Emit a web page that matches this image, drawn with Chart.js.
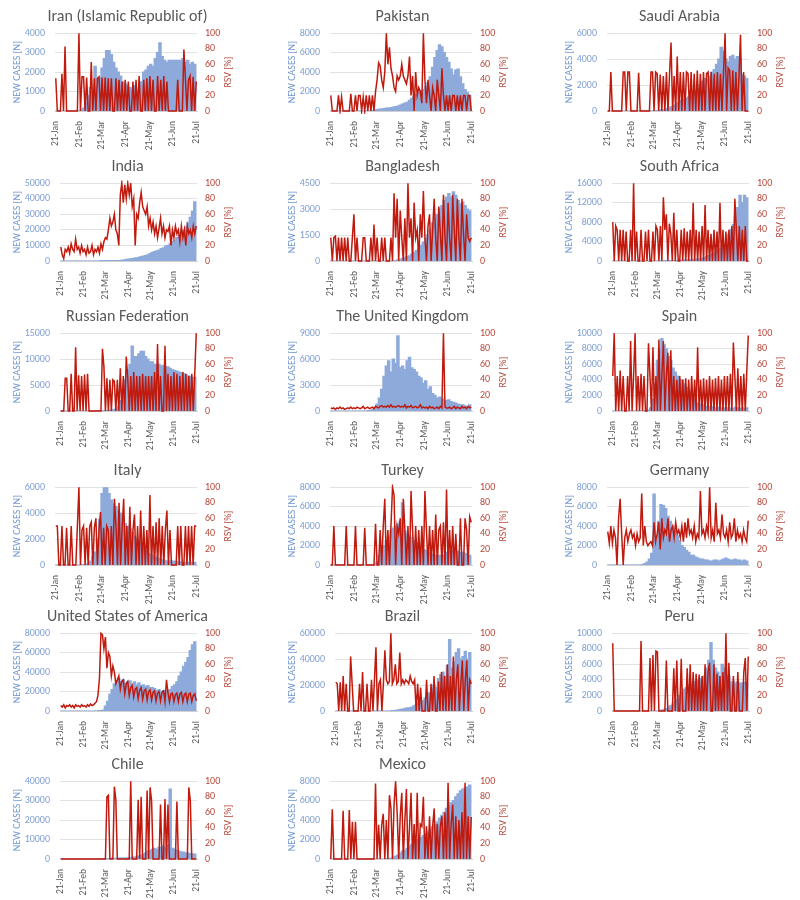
<!DOCTYPE html>
<html>
<head>
<meta charset="utf-8">
<script src="https://cdn.jsdelivr.net/npm/chart.js@4.4.1/dist/chart.umd.min.js"></script>
<style>
  body { margin: 0; background: #fff; }
  #wrap { position: relative; width: 800px; height: 900px; }
  #wrap canvas { position: absolute; }
</style>
</head>
<body>
<div id="wrap"></div>
<script>
// x positions are days after 21-Jan
const tickDays = [0, 31, 60, 91, 121, 152, 182];
const tickLabels = ["21-Jan", "21-Feb", "21-Mar", "21-Apr", "21-May", "21-Jun", "21-Jul"];
const caseStepDays = 3;
const rsvStepDays = 2;

const countries = [
  "Iran (Islamic Republic of)", "Pakistan", "Saudi Arabia",
  "India", "Bangladesh", "South Africa",
  "Russian Federation", "The United Kingdom", "Spain",
  "Italy", "Turkey", "Germany",
  "United States of America", "Brazil", "Peru",
  "Chile", "Mexico",
];
const caseAxisMax = [4000, 8000, 6000, 50000, 4500, 16000, 15000, 9000, 10000, 6000, 8000, 8000, 80000, 60000, 10000, 40000, 8000];
const caseAxisStep = [1000, 2000, 2000, 10000, 1500, 4000, 5000, 3000, 2000, 2000, 2000, 2000, 20000, 20000, 2000, 10000, 2000];

const iranCases = [0,0,0,0,0,0,0,0,0,0,0,
  50,150,400,800,1200,1000,2300,1400,1700,2200,
  2700,3100,3100,2900,2500,2200,2000,1800,1500,1400,
  1300,1200,1100,1300,1000,1100,1500,2000,2100,2300,
  2400,2300,2700,3000,3500,2800,2600,2500,2600,2600,
  2600,2600,2600,2600,2700,2500,2600,2400,2500,2400];
const iranRsv = [42,0,0,0,48,0,83,0,0,0,0,0,0,0,0,100,
  0,44,44,0,43,0,0,63,0,42,0,42,44,0,43,
  0,43,0,42,0,42,0,0,42,0,40,0,38,0,40,
  0,38,0,0,38,0,40,0,45,0,0,40,0,42,0,
  45,0,40,0,0,45,0,40,0,45,0,38,0,0,0,
  0,0,0,40,0,0,0,79,42,0,40,45,0,44,0,38];

const pakistanCases = [0,0,0,0,0,0,0,0,0,0,0,
  0,0,0,0,0,0,0,50,100,150,
  200,200,250,300,300,350,400,450,500,600,
  700,800,900,1100,1300,1500,1700,1900,2100,2200,
  2500,2900,3500,4500,5500,6200,6800,6600,6000,5500,
  5000,4300,3700,4200,4300,3500,2800,2200,1900,1600];
const pakistanRsv = [20,0,0,0,0,20,0,18,0,0,0,0,0,22,0,0,
  20,0,20,20,0,18,0,20,0,20,0,20,0,25,40,
  62,58,40,30,50,100,60,82,55,45,30,25,45,40,45,
  60,45,40,35,45,70,20,45,0,50,20,30,25,10,100,
  40,10,40,20,0,30,20,0,40,20,0,55,20,0,20,
  0,20,0,20,20,0,20,0,20,0,20,20,0,20,20,0];

const saudiCases = [0,0,0,0,0,0,0,0,0,0,0,
  0,0,0,0,0,0,0,0,0,10,
  20,50,80,100,150,200,300,350,450,600,
  700,800,900,1000,1100,1200,1300,1500,1700,2000,
  2300,2500,2400,2700,3000,3200,3600,4000,4900,4600,
  4000,3800,4200,4300,4000,4200,4100,2800,2700,2500];
const saudiRsv = [0,0,50,0,0,0,0,0,0,0,50,50,0,50,50,0,
  0,0,0,0,49,0,0,0,0,0,0,0,50,50,0,
  50,48,0,47,0,45,0,50,0,47,88,0,45,0,70,
  0,50,0,50,0,50,48,0,50,0,48,0,52,0,48,
  0,50,0,48,50,0,50,0,48,0,50,0,48,0,50,
  100,0,55,52,0,52,0,50,0,45,98,0,50,0,0,0];

const indiaCases = [0,0,0,0,0,0,0,0,0,0,0,
  0,0,0,0,0,0,0,10,20,30,
  50,80,100,150,200,300,400,600,900,1200,
  1300,1500,1800,2000,2400,2800,3200,3500,4000,4800,
  5500,6000,6500,7000,8000,8500,9500,10000,11000,12500,
  13500,15000,16500,18000,19500,22000,24500,28000,32000,38000];
const indiaRsv = [18,8,3,15,12,18,10,22,15,12,28,15,18,10,20,12,
  15,8,18,10,12,20,8,15,12,18,10,22,15,25,30,
  28,40,55,45,50,60,40,35,20,85,100,75,98,80,100,
  85,100,70,80,20,60,55,75,88,70,65,60,70,45,55,
  40,50,35,45,30,42,55,35,45,30,40,38,45,20,40,
  30,45,35,40,25,45,30,40,20,45,35,40,30,45,35,45];

const bangladeshCases = [0,0,0,0,0,0,0,0,0,0,0,
  0,0,0,0,0,0,0,0,0,0,
  0,0,0,0,0,0,10,30,60,100,
  150,200,250,300,400,500,600,700,900,1100,
  1300,1500,1800,2200,2500,2700,3000,3200,3500,3700,
  3900,3700,4000,3800,3500,3300,3400,3200,3000,2900];
const bangladeshRsv = [30,0,30,32,0,30,0,30,0,30,0,30,0,0,30,60,
  0,30,0,0,0,30,30,0,0,0,30,0,47,0,30,
  0,0,30,0,30,0,0,0,30,0,87,30,80,0,65,
  30,0,55,0,100,30,55,0,75,30,40,0,60,30,90,
  30,0,45,60,0,40,80,30,0,70,35,0,85,30,0,
  75,30,0,85,40,0,80,30,0,80,35,0,60,30,25,30];

const southAfricaCases = [0,0,0,0,0,0,0,0,0,0,0,
  0,0,0,0,0,0,0,0,0,0,
  0,10,20,40,50,60,70,80,100,150,
  150,200,250,300,300,350,400,450,500,600,
  700,900,1100,1300,1500,1800,2100,2500,3000,3500,
  4500,5500,6500,7500,9000,11000,13500,12000,13500,13000];
const southAfricaRsv = [50,0,45,40,0,40,0,40,0,38,0,0,40,0,100,0,
  38,0,0,40,0,0,38,0,40,0,0,38,0,45,40,
  0,45,0,82,40,60,0,48,35,0,62,0,40,0,0,
  40,0,42,0,38,0,40,0,75,0,40,0,38,0,45,
  0,72,0,40,0,35,0,40,0,38,0,75,0,40,0,
  38,0,40,0,45,0,80,40,0,45,0,40,0,45,0,0];

const russiaCases = [0,0,0,0,0,0,0,0,0,0,0,
  0,0,0,0,0,0,0,20,50,100,
  100,150,200,300,500,800,2000,4000,6000,8000,
  9000,12500,10500,10500,11000,11500,11500,10500,10000,9500,
  9500,9000,9000,9000,8700,8800,8500,8500,8200,8000,
  7800,7700,7500,7400,7200,7000,6800,6700,6500,6500];
const russiaRsv = [0,0,0,42,42,0,0,48,0,0,82,0,46,0,45,0,
  47,0,48,0,0,0,0,0,0,0,0,0,80,57,0,
  42,0,40,0,40,38,0,40,0,55,0,45,0,70,42,
  0,45,0,50,0,45,0,45,0,48,0,45,0,45,0,
  45,0,50,0,86,0,45,0,0,84,0,48,0,45,0,
  50,0,48,0,45,0,50,0,48,0,45,0,48,0,48,100];

const ukCases = [0,0,0,0,0,0,0,0,0,0,0,
  0,0,0,0,0,20,50,150,400,800,
  1500,2500,4000,5200,5800,4500,6000,5500,8700,5000,
  5200,4800,5800,6200,5000,4800,4500,4000,3800,3200,
  3500,2500,2800,2000,1800,1500,1600,1400,1300,1200,
  1300,1100,1000,900,800,700,700,600,500,700];
const ukRsv = [4,3,4,2,4,3,5,3,4,2,3,4,3,5,3,4,
  3,5,4,3,4,6,3,4,5,3,4,5,3,6,5,
  4,6,7,5,6,5,7,5,8,5,6,5,6,7,5,
  6,5,8,4,6,5,7,4,5,6,4,5,8,4,5,
  4,5,3,6,4,5,3,4,5,3,6,4,100,5,4,
  4,5,3,4,6,3,5,4,3,6,4,5,3,6,4,5];

const spainCases = [0,0,0,0,0,0,0,0,0,0,0,
  0,0,0,10,30,100,400,1500,3500,6500,
  8000,9300,8500,8000,7000,6500,5500,5000,4500,4000,
  4000,3500,3000,2500,2000,1500,1200,1000,900,800,
  700,600,500,600,500,400,400,500,300,400,
  400,300,400,300,500,400,300,400,300,400];
const spainRsv = [45,100,0,45,0,52,0,45,0,0,45,0,90,0,45,100,
  0,45,0,48,0,45,0,0,87,45,0,82,0,45,0,
  92,0,45,90,0,45,75,0,78,0,45,0,40,0,45,
  0,40,0,42,0,40,0,45,0,40,0,82,0,40,0,
  42,0,40,0,45,0,40,0,42,0,45,0,40,0,45,
  0,45,0,48,0,88,45,0,55,0,45,0,48,0,50,97];

const italyCases = [0,0,0,0,0,0,0,0,0,0,0,
  10,20,50,100,300,600,1000,2000,3500,5500,
  6500,6500,5500,5000,4700,4500,4200,4000,3500,3200,
  3000,2800,2500,2200,2000,1800,1500,1300,1100,900,
  800,700,600,550,500,400,350,300,300,300,
  300,250,250,250,200,200,200,200,200,200];
const italyRsv = [50,50,0,0,50,0,0,48,0,0,50,0,0,0,50,100,
  0,45,50,0,48,0,50,55,0,48,60,0,45,68,0,
  48,0,50,45,0,50,0,85,50,0,80,0,48,85,0,
  50,0,75,0,45,65,0,50,0,70,0,50,0,45,0,
  90,0,50,0,55,0,60,0,50,0,45,70,0,45,0,
  0,0,0,50,0,50,0,0,50,0,50,0,50,0,50,50];

const turkeyCases = [0,0,0,0,0,0,0,0,0,0,0,
  0,0,0,0,0,0,0,0,100,300,
  1000,1500,2000,2500,3000,3500,3800,4000,4200,4500,
  6400,3500,3200,3000,2800,2500,2300,2000,1800,1600,
  1500,1300,1200,1100,1000,1000,1000,900,1000,1300,
  1400,1500,1500,1400,1400,1300,1300,1200,1100,1000];
const turkeyRsv = [0,0,50,0,0,0,0,0,0,0,50,0,0,0,0,0,
  50,0,0,0,0,0,48,0,0,0,0,0,0,53,0,
  0,45,0,50,85,0,45,0,50,100,90,0,50,40,60,
  0,85,45,0,50,0,95,45,0,50,0,45,0,50,0,
  95,45,0,50,0,45,0,65,0,45,50,0,55,0,97,
  0,45,0,50,0,40,0,0,60,0,0,60,45,0,62,55];

const germanyCases = [0,0,0,0,0,0,0,0,0,0,0,
  0,0,0,0,50,150,300,600,1200,7300,
  2500,4500,6200,6100,5800,5000,4500,4000,3500,3000,
  2500,2000,1800,1500,1300,1000,1000,800,700,600,
  600,500,500,400,400,500,500,400,500,600,
  700,600,500,500,600,500,500,400,500,400];
const germanyRsv = [43,28,50,28,45,35,0,60,85,40,0,35,45,30,40,45,
  35,40,25,40,30,35,92,25,50,30,25,28,30,25,55,
  30,40,55,20,60,35,45,40,60,30,45,50,35,55,40,
  45,35,50,30,55,35,60,40,45,35,50,30,40,35,95,
  40,45,35,50,40,100,35,45,30,80,40,45,35,65,40,
  35,45,30,55,35,40,60,30,45,35,40,30,45,35,30,57];

const usaCases = [0,0,0,0,0,0,0,0,0,0,0,
  0,0,0,0,0,0,50,200,1000,5000,
  10000,17000,22000,28000,31000,33000,30000,32000,29000,30000,
  31000,28000,30000,27000,29000,26000,27000,25000,26000,24000,
  24000,23000,21000,22000,20000,21000,19000,21000,22000,25000,
  27000,30000,36000,40000,46000,50000,55000,62000,68000,71000];
const usaRsv = [7,5,8,4,7,6,8,5,7,4,8,6,7,5,8,6,
  7,5,8,6,9,7,8,10,12,20,42,100,98,80,95,
  55,75,70,45,58,50,35,40,45,28,38,40,22,35,38,
  20,30,33,18,28,30,16,27,30,15,26,28,14,25,27,
  14,24,26,13,23,25,13,24,26,12,40,24,12,22,23,
  12,21,23,12,22,24,12,21,23,12,22,23,12,20,22,13];

const brazilCases = [0,0,0,0,0,0,0,0,0,0,0,
  0,0,0,0,0,0,0,0,0,0,
  0,0,0,0,100,300,500,800,1200,1500,
  2000,2500,2500,3000,4000,5000,6000,7000,8000,10000,
  12000,14000,17000,20000,18000,25000,28000,30000,27000,35000,
  55000,33000,38000,45000,48000,40000,42000,46000,40000,45000];
const brazilRsv = [37,35,0,37,0,45,0,35,0,0,70,35,0,0,0,0,
  35,0,50,0,0,35,0,0,40,0,40,82,0,35,40,
  0,35,78,40,35,38,100,35,40,60,35,38,75,35,40,
  35,40,38,35,45,38,35,40,0,35,0,30,0,0,0,
  40,0,0,35,0,45,0,0,38,0,50,0,45,0,60,
  0,45,0,70,0,40,60,0,35,65,0,40,65,0,40,35];

const peruCases = [0,0,0,0,0,0,0,0,0,0,0,
  0,0,0,0,0,0,0,0,0,0,
  50,100,200,300,500,700,900,1200,1500,2000,
  2500,2800,3000,3200,3500,3700,3800,4000,4200,4100,
  4500,5500,6500,8800,6500,5500,5000,4500,6000,5500,
  4000,4500,3700,3800,3600,3700,3600,3600,3700,3600];
const peruRsv = [87,0,0,0,0,0,0,0,0,0,0,0,0,0,0,0,
  0,0,0,90,0,0,0,0,0,68,0,72,0,77,76,
  0,0,0,0,0,65,0,0,0,0,55,0,65,0,0,
  67,0,0,0,55,0,60,0,50,0,48,0,47,0,45,
  0,60,0,50,62,0,0,60,0,48,0,45,0,50,0,
  100,0,62,0,0,45,0,0,50,0,0,0,50,68,0,70];

const chileCases = [0,0,0,0,0,0,0,0,0,0,0,
  0,0,0,0,0,0,0,0,50,100,
  200,200,300,300,300,400,400,400,500,600,
  700,900,1000,1300,1500,2000,2500,3000,4000,4500,
  5000,5500,5000,6000,6000,6500,5500,7000,36000,5500,
  5000,4500,4000,3500,3500,3000,3000,2800,2600,2500];
const chileRsv = [0,0,0,0,0,0,0,0,0,0,0,0,0,0,0,0,
  0,0,0,0,0,0,0,0,0,0,0,0,0,0,0,
  80,82,0,0,0,93,76,0,0,0,0,0,0,0,0,
  0,100,0,0,0,0,76,0,80,0,0,0,88,0,92,
  75,0,0,0,0,0,70,0,0,77,0,70,0,0,0,
  0,0,74,0,0,0,0,0,0,0,92,75,0,0,0,0];

const mexicoCases = [0,0,0,0,0,0,0,0,0,0,0,
  0,0,0,0,0,0,0,0,0,0,
  0,0,0,10,50,100,200,300,400,600,
  800,900,1100,1300,1500,1700,1800,2000,2200,2400,
  2600,2800,3000,3300,3500,3800,4200,4500,4800,5200,
  5500,5800,6000,6400,6700,7000,7200,7300,7400,7600];
const mexicoRsv = [0,64,0,0,0,0,0,0,62,0,0,0,63,0,48,0,
  48,0,0,0,0,0,0,0,0,0,0,0,0,97,0,
  44,0,44,58,0,50,0,82,65,0,70,100,60,0,55,
  85,0,50,90,0,40,85,0,45,0,85,0,45,42,80,
  0,42,0,55,0,42,65,0,45,0,42,55,0,60,0,
  98,0,45,70,0,55,0,50,0,60,0,98,0,55,0,54];

const casesByCountry = [iranCases, pakistanCases, saudiCases, indiaCases, bangladeshCases,
  southAfricaCases, russiaCases, ukCases, spainCases, italyCases, turkeyCases, germanyCases,
  usaCases, brazilCases, peruCases, chileCases, mexicoCases];
const rsvByCountry = [iranRsv, pakistanRsv, saudiRsv, indiaRsv, bangladeshRsv,
  southAfricaRsv, russiaRsv, ukRsv, spainRsv, italyRsv, turkeyRsv, germanyRsv,
  usaRsv, brazilRsv, peruRsv, chileRsv, mexicoRsv];

// layout of the 3x6 grid
const colLeft = [0, 275, 552];
const rowTop = [0, 150, 300, 454, 600, 748];
const W = 255, H = 150;
const FONT = "Carlito, Lato, 'Liberation Sans', sans-serif";
const RED_TEXT = "#b5473a";

Chart.defaults.font.family = FONT;

// right axis title reads bottom-to-top like the left one
const rightTitle = {
  id: "rightTitle",
  afterDraw(chart) {
    const { ctx, chartArea } = chart;
    ctx.save();
    ctx.translate(chart.width - 27, (chartArea.top + chartArea.bottom) / 2);
    ctx.rotate(-Math.PI / 2);
    ctx.font = "10px " + FONT;
    ctx.fillStyle = RED_TEXT;
    ctx.textAlign = "center";
    ctx.textBaseline = "middle";
    ctx.fillText("RSV [%]", 0, 0);
    ctx.restore();
  },
};

const wrap = document.getElementById("wrap");

countries.forEach((name, k) => {
  const cv = document.createElement("canvas");
  cv.width = W;
  cv.height = H;
  cv.style.left = colLeft[k % 3] + "px";
  cv.style.top = rowTop[Math.floor(k / 3)] + "px";
  wrap.appendChild(cv);

  const leftW = caseAxisMax[k] >= 10000 ? 60 : 55;

  new Chart(cv, {
    type: "bar",
    plugins: [rightTitle],
    data: {
      datasets: [
        {
          type: "line",
          label: "RSV [%]",
          data: rsvByCountry[k].map((v, i) => ({ x: i * rsvStepDays, y: v })),
          borderColor: "#c0190d",
          borderWidth: 1.5,
          pointRadius: 0,
          tension: 0,
          yAxisID: "y1",
          order: 1,
          clip: 3,
        },
        {
          type: "bar",
          label: "New cases [N]",
          data: casesByCountry[k].map((v, i) => ({ x: i * caseStepDays, y: v })),
          backgroundColor: "#8eaadb",
          borderWidth: 0,
          inflateAmount: 0.6,
          barPercentage: 1,
          categoryPercentage: 1,
          yAxisID: "y",
          order: 2,
        },
      ],
    },
    options: {
      responsive: false,
      devicePixelRatio: 1,
      animation: false,
      layout: { padding: 0 },
      plugins: {
        legend: { display: false },
        tooltip: { enabled: false },
        title: {
          display: true,
          text: name,
          color: "#595959",
          font: { size: 16, weight: "normal" },
          padding: { top: 7, bottom: 7 },
        },
      },
      scales: {
        x: {
          type: "linear",
          min: -1,
          max: 183,
          offset: false,
          grid: { display: false },
          border: { display: true, color: "#d0d0d0" },
          afterBuildTicks: (s) => {
            s.ticks = tickDays.map((v) => ({ value: v }));
          },
          ticks: {
            autoSkip: false,
            minRotation: 90,
            maxRotation: 90,
            padding: 2,
            color: "#595959",
            font: { size: 9.5 },
            callback: (v) => {
              const i = tickDays.indexOf(v);
              return i >= 0 ? tickLabels[i] : "";
            },
          },
          afterFit: (s) => { s.height = 39; },
        },
        y: {
          position: "left",
          min: 0,
          max: caseAxisMax[k],
          grid: { color: "#e2e2e2", drawTicks: false },
          border: { display: false },
          ticks: {
            stepSize: caseAxisStep[k],
            padding: 10,
            color: "#7f9fd2",
            font: { size: 10 },
            callback: (v) => String(v),
          },
          title: {
            display: true,
            text: "NEW CASES [N]",
            color: "#6f95d0",
            font: { size: 10 },
            padding: { top: 11, bottom: 0 },
          },
          afterFit: (s) => { s.width = leftW; },
        },
        y1: {
          position: "right",
          min: 0,
          max: 100,
          grid: { display: false, drawTicks: false },
          border: { display: false },
          ticks: {
            stepSize: 20,
            padding: 8,
            color: RED_TEXT,
            font: { size: 10 },
            callback: (v) => String(v),
          },
          afterFit: (s) => { s.width = 58; },
        },
      },
    },
  });
});
</script>
</body>
</html>
